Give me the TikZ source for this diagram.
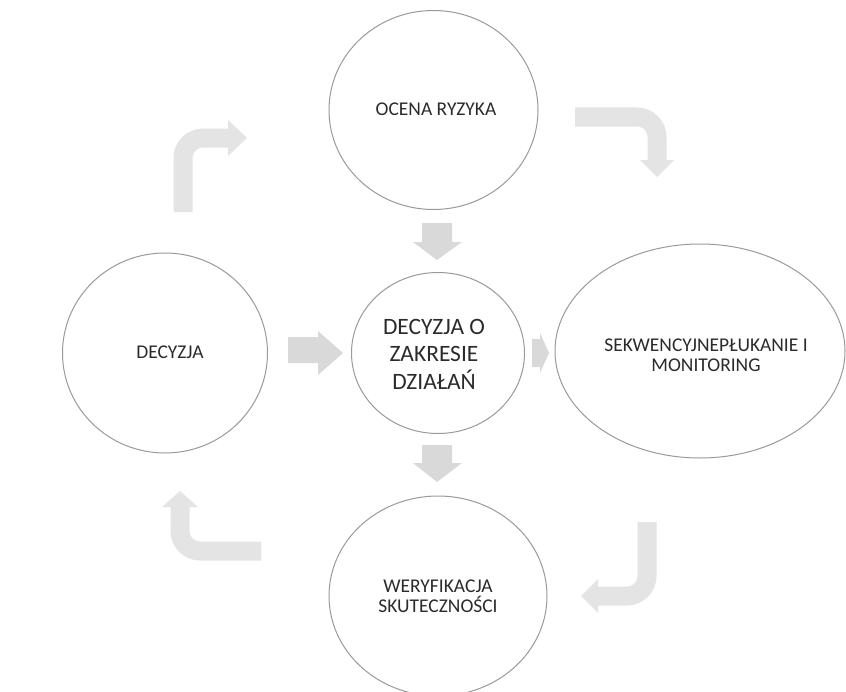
\documentclass[tikz,border=0pt]{standalone}
\usepackage{fontspec}
\setmainfont{Carlito}
\usetikzlibrary{shapes.geometric}
\definecolor{ringc}{HTML}{9A9A9A}
\definecolor{txt}{HTML}{2B2B2B}
\definecolor{arrA}{HTML}{D9D9D9}
\definecolor{arrB}{HTML}{E4E4E4}
\begin{document}
\begin{tikzpicture}[x=0.75pt,y=-0.75pt,
  ring/.style={ellipse, draw=ringc, line width=0.75pt, fill=white, inner sep=0pt},
  lbl/.style={text=txt, align=center, inner sep=0pt, font=\fontsize{14.6}{14.8}\selectfont},
  big/.style={text=txt, align=center, inner sep=0pt, font=\fontsize{17.6}{20.6}\selectfont},
  blk/.style={fill=arrA},
  bendshaft/.style={draw=arrB, line width=14.25pt, line cap=butt, rounded corners=15pt},
  bendhead/.style={fill=arrB}]
\fill[white] (0,0) rectangle (846,692);
\useasboundingbox (0,0) rectangle (846,692);
\begin{scope}
\clip (0,0) rectangle (846,692);
% circles
\node[ring, minimum width=156.75pt, minimum height=149.25pt] (top) at (433.5,110) {};
\node[ring, minimum width=153.75pt, minimum height=150pt] (left) at (165,353) {};
\node[ring, minimum width=129.75pt, minimum height=120.75pt] (cen) at (438,353) {};
\node[ring, minimum width=217.5pt, minimum height=160.5pt] (right) at (700,351) {};
\node[ring, minimum width=163.5pt, minimum height=150pt] (bot) at (438,596) {};
\end{scope}
% labels
\node[lbl] (tTop) at (436,109) {OCENA RYZYKA};
\node[lbl] (tLeft) at (170,352) {DECYZJA};
\node[big] (tCen) at (434,354) {DECYZJA O\\ZAKRESIE\\DZIAŁAŃ};
\node[lbl] (tRight) at (706,355) {SEKWENCYJNEPŁUKANIE I\\MONITORING};
\node[lbl] (tBot) at (438,596) {WERYFIKACJA\\SKUTECZNOŚCI};
% straight block arrows
\fill[blk] (422,223) -- (452,223) -- (452,242) -- (462,242) -- (437,260) -- (413,242) -- (422,242) -- cycle;
\fill[blk] (422,445) -- (452,445) -- (452,463) -- (462,463) -- (437,482) -- (413,463) -- (422,463) -- cycle;
\fill[blk] (288,337) -- (318,337) -- (318,331) -- (343,353) -- (318,375) -- (318,363) -- (288,363) -- cycle;
\fill[blk] (532,339) -- (540,339) -- (540,333) -- (549,353) -- (540,373) -- (540,367) -- (532,367) -- cycle;
% bent arrows
\coordinate (a1s) at (183,212); \coordinate (a1c) at (183,138); \coordinate (a1e) at (228,138);
\draw[bendshaft] (a1s) -- (a1c) -- (a1e);
\fill[bendhead] (228,120) -- (247,138) -- (228,156) -- cycle;
\coordinate (a2s) at (575,117); \coordinate (a2c) at (657,117); \coordinate (a2e) at (657,160);
\draw[bendshaft] (a2s) -- (a2c) -- (a2e);
\fill[bendhead] (640,160) -- (657,177) -- (674,160) -- cycle;
\coordinate (a3s) at (647,522); \coordinate (a3c) at (647,596); \coordinate (a3e) at (598,596);
\draw[bendshaft] (a3s) -- (a3c) -- (a3e);
\fill[bendhead] (598,579) -- (581,596) -- (598,613) -- cycle;
\coordinate (a4s) at (261,551); \coordinate (a4c) at (180,551); \coordinate (a4e) at (180,507);
\draw[bendshaft] (a4s) -- (a4c) -- (a4e);
\fill[bendhead] (162,507) -- (180,491) -- (198,507) -- cycle;
\end{tikzpicture}
\end{document}
